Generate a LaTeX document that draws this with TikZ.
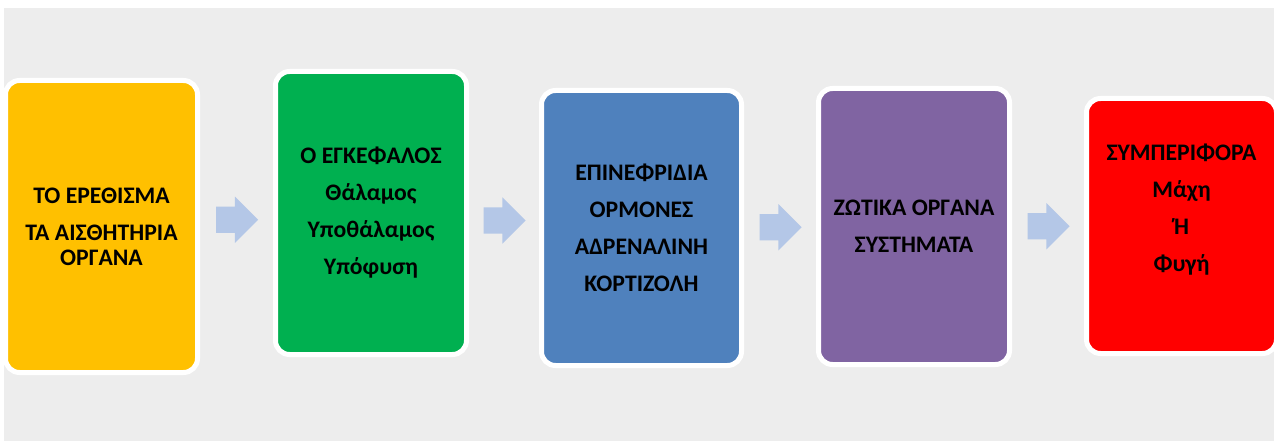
\documentclass[tikz,border=0pt]{standalone}
\usepackage{fontspec}
\setmainfont{Carlito}[BoldFont={Carlito Bold}]
\usetikzlibrary{shapes.arrows,calc}

\definecolor{bggray}{HTML}{EDEDED}
\definecolor{boxyellow}{HTML}{FFC000}
\definecolor{boxgreen}{HTML}{00B050}
\definecolor{boxblue}{HTML}{4F81BD}
\definecolor{boxpurple}{HTML}{8064A2}
\definecolor{boxred}{HTML}{FF0000}
\definecolor{arrowblue}{HTML}{B4C7E7}

\tikzset{
    stagebox/.style={draw=white, line width=5pt, rounded corners=14pt,
        inner sep=0pt, align=center, text=black,
        font=\bfseries\fontsize{23.7}{25}\selectfont},
    flowarrow/.style={single arrow, fill=arrowblue, draw=none,
        inner xsep=0pt, inner ysep=13pt, minimum height=42pt,
        single arrow head extend=10pt, xshift=-6pt}
}

\begin{document}
\begin{tikzpicture}[x=1pt, y=-1pt]
    % φόντο
    \useasboundingbox (0,0) rectangle (1274,441);
    \fill[white] (0,0) rectangle (1274,441);
    \fill[bggray] (4,8) rectangle (1274,441);

    % στάδια
    \node[stagebox, fill=boxyellow, minimum width=192pt, minimum height=292pt]
        (stim) at (101.5,226.5) {ΤΟ ΕΡΕΘΙΣΜΑ\\[12pt]ΤΑ ΑΙΣΘΗΤΗΡΙΑ\\ΟΡΓΑΝΑ};
    \node[stagebox, fill=boxgreen, minimum width=191pt, minimum height=283pt]
        (brain) at (371,213) {Ο ΕΓΚΕΦΑΛΟΣ\\[12pt]Θάλαμος\\[12pt]Υποθάλαμος\\[12pt]Υπόφυση};
    \node[stagebox, fill=boxblue, minimum width=200pt, minimum height=275pt]
        (adrenal) at (641.5,228) {ΕΠΙΝΕΦΡΙΔΙΑ\\[12pt]ΟΡΜΟΝΕΣ\\[12pt]ΑΔΡΕΝΑΛΙΝΗ\\[12pt]ΚΟΡΤΙΖΟΛΗ};
    \node[stagebox, fill=boxpurple, minimum width=191pt, minimum height=276pt]
        (organs) at (914,226.5) {ΖΩΤΙΚΑ ΟΡΓΑΝΑ\\[12pt]ΣΥΣΤΗΜΑΤΑ};
    \node[stagebox, fill=boxred, minimum width=190pt, minimum height=255pt, text depth=36pt]
        (behav) at (1181.5,226) {ΣΥΜΠΕΡΙΦΟΡΑ\\[12pt]Μάχη\\[12pt]Ή\\[12pt]Φυγή};

    % βέλη ροής
    \foreach \a/\b [count=\i] in {stim/brain, brain/adrenal, adrenal/organs, organs/behav}
        \node[flowarrow] (arr\i) at ($(\a.east)!0.5!(\b.west)$) {};
\end{tikzpicture}
\end{document}
